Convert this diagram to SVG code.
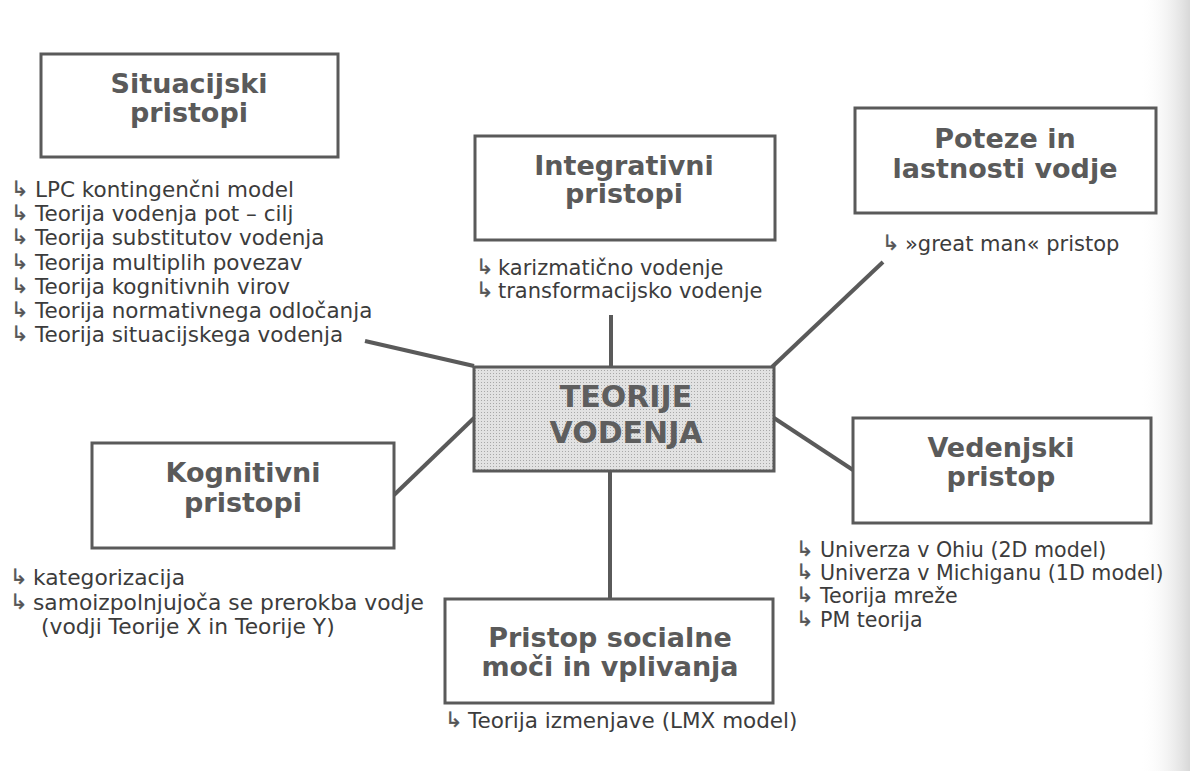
<svg xmlns="http://www.w3.org/2000/svg" width="1190" height="771" viewBox="0 0 1190 771">
<defs>
<pattern id="dots" width="3" height="3" patternUnits="userSpaceOnUse">
<rect width="3" height="3" fill="#e2e2e2"/>
<rect x="1" y="1" width="1" height="1" fill="#a8a8a8"/>
</pattern>
<linearGradient id="shade" x1="0" y1="0" x2="1" y2="0">
<stop offset="0" stop-color="#ffffff" stop-opacity="0"/>
<stop offset="1" stop-color="#d8d8d8"/>
</linearGradient>
<style>
.box{fill:#fff;stroke:#5a5a5a;stroke-width:3}
.center{fill:url(#dots);stroke:#5a5a5a;stroke-width:3}
.title{font-family:"DejaVu Sans",Verdana,sans-serif;font-weight:bold;font-size:27px;fill:#5a5a5a;text-anchor:middle}
.ctitle{font-family:"DejaVu Sans",Verdana,sans-serif;font-weight:bold;font-size:30px;fill:#5e5e5e;text-anchor:middle}
.item{font-family:"DejaVu Sans",Verdana,sans-serif;font-size:21px;fill:#3c3c3c}
.big{font-size:21.5px}
.bigger{font-size:21.8px}
.small{font-size:20.6px}
.bul{font-family:"DejaVu Sans",sans-serif;font-size:21px;fill:#555;stroke:#555;stroke-width:0.4}
.conn{stroke:#5a5a5a;stroke-width:4;fill:none;stroke-linecap:butt}
</style>
</defs>
<rect width="1190" height="771" fill="#fff"/>
<rect x="1140" y="0" width="50" height="771" fill="url(#shade)"/>

<g id="connectors">
<line class="conn" x1="365" y1="341" x2="474" y2="366"/>
<line class="conn" x1="611" y1="315" x2="611" y2="367"/>
<line class="conn" x1="883" y1="262" x2="772" y2="367"/>
<line class="conn" x1="394" y1="495" x2="474" y2="418"/>
<line class="conn" x1="774" y1="418" x2="853" y2="470"/>
<line class="conn" x1="610" y1="471" x2="610" y2="599"/>
</g>

<g id="situacijski">
<rect class="box" x="41" y="54" width="297" height="103"/>
<text class="title" x="189" y="93">Situacijski</text>
<text class="title" x="189" y="122">pristopi</text>
<g class="item big">
<text x="35" y="197">LPC kontingenčni model</text>
<text x="35" y="221">Teorija vodenja pot – cilj</text>
<text x="35" y="245">Teorija substitutov vodenja</text>
<text x="35" y="270">Teorija multiplih povezav</text>
<text x="35" y="294">Teorija kognitivnih virov</text>
<text x="35" y="318">Teorija normativnega odločanja</text>
<text x="35" y="342">Teorija situacijskega vodenja</text>
</g>
<g class="bul">
<text x="11" y="196">↳</text>
<text x="11" y="220">↳</text>
<text x="11" y="244">↳</text>
<text x="11" y="269">↳</text>
<text x="11" y="293">↳</text>
<text x="11" y="317">↳</text>
<text x="11" y="341">↳</text>
</g>
</g>

<g id="integrativni">
<rect class="box" x="475" y="136" width="300" height="104"/>
<text class="title" x="624" y="175">Integrativni</text>
<text class="title" x="624" y="203">pristopi</text>
<text class="item" x="498" y="275">karizmatično vodenje</text>
<text class="item" x="498" y="298">transformacijsko vodenje</text>
<text class="bul" x="476" y="274">↳</text>
<text class="bul" x="476" y="297">↳</text>
</g>

<g id="poteze">
<rect class="box" x="855" y="108" width="301" height="105"/>
<text class="title" x="1005" y="148">Poteze in</text>
<text class="title" x="1005" y="178">lastnosti vodje</text>
<text class="item" x="905" y="251">»great man« pristop</text>
<text class="bul" x="882" y="250">↳</text>
</g>

<g id="teorije-vodenja">
<rect class="center" x="474" y="367" width="300" height="104"/>
<text class="ctitle" x="626" y="407">TEORIJE</text>
<text class="ctitle" x="626" y="443">VODENJA</text>
</g>

<g id="kognitivni">
<rect class="box" x="92" y="443" width="302" height="105"/>
<text class="title" x="243" y="482">Kognitivni</text>
<text class="title" x="243" y="512">pristopi</text>
<g class="item bigger">
<text x="33" y="585">kategorizacija</text>
<text x="33" y="610">samoizpolnjujoča se prerokba vodje</text>
<text x="41" y="634">(vodji Teorije X in Teorije Y)</text>
</g>
<text class="bul" x="10" y="584">↳</text>
<text class="bul" x="10" y="609">↳</text>
</g>

<g id="vedenjski">
<rect class="box" x="853" y="418" width="298" height="105"/>
<text class="title" x="1001" y="457">Vedenjski</text>
<text class="title" x="1001" y="486">pristop</text>
<g class="item small">
<text x="820" y="557">Univerza v Ohiu (2D model)</text>
<text x="820" y="580">Univerza v Michiganu (1D model)</text>
<text x="820" y="603">Teorija mreže</text>
<text x="820" y="627">PM teorija</text>
</g>
<g class="bul">
<text x="796" y="556">↳</text>
<text x="796" y="579">↳</text>
<text x="796" y="602">↳</text>
<text x="796" y="626">↳</text>
</g>
</g>

<g id="socialne-moci">
<rect class="box" x="445" y="599" width="328" height="104"/>
<text class="title" x="610" y="647">Pristop socialne</text>
<text class="title" x="610" y="676">moči in vplivanja</text>
<text class="item big" x="468" y="728">Teorija izmenjave (LMX model)</text>
<text class="bul" x="445" y="727">↳</text>
</g>
</svg>
